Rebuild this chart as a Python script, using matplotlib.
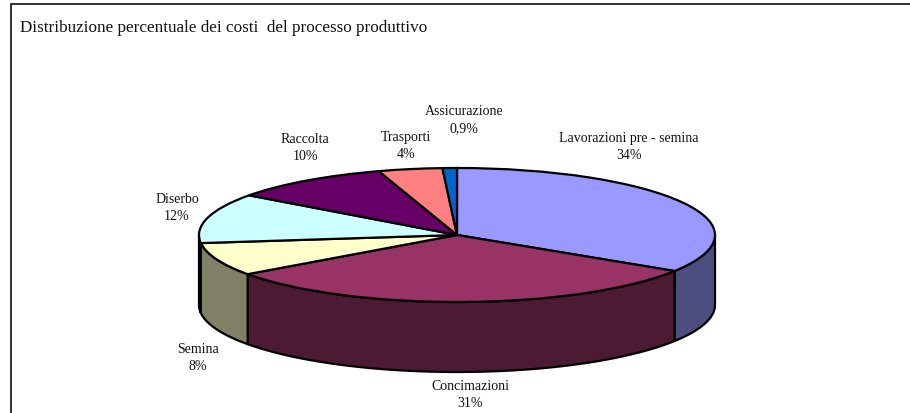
import numpy as np
import matplotlib
matplotlib.use("Agg")
import matplotlib.pyplot as plt
from matplotlib.patches import Rectangle

plt.rcParams['font.family'] = ['Liberation Serif', 'DejaVu Serif']

title = "Distribuzione percentuale dei costi  del processo produttivo"
categories = ["Lavorazioni pre - semina", "Concimazioni", "Semina", "Diserbo",
              "Raccolta", "Trasporti", "Assicurazione"]
values = [34, 31, 8, 12, 10, 4, 0.9]
value_labels = ["34%", "31%", "8%", "12%", "10%", "4%", "0,9%"]
top_colors = ["#9999FF", "#993366", "#FFFFCC", "#CCFFFF", "#660066", "#FF8080", "#0066CC"]
side_colors = ["#4D4D80", "#4D1A33", "#808066", "#668080", "#330033", "#804040", "#003366"]
label_centers_px = [(629, 147), (470, 395), (198, 358), (177, 208),
                    (305, 148), (406, 146), (464, 120)]

W, H = 910, 414
CX, CY, RX, RY, DEPTH = 457, 236, 258, 67, 70

fig = plt.figure(figsize=(W / 100, H / 100), dpi=100, facecolor="white")
ax = fig.add_axes([0, 0, 1, 1])
ax.pie(values, colors=top_colors, startangle=90, counterclock=False, radius=1,
       center=(0, 0), normalize=True, frame=False,
       wedgeprops=dict(edgecolor="black", linewidth=1.6, zorder=3))
ax.set_aspect("auto")
ax.set_xlim(-CX / RX, (W - CX) / RX)
ax.set_ylim(-(H - CY) / RY, CY / RY)
ax.axis("off")
d = DEPTH / RY

def px(x, y):
    return (x - CX) / RX, (CY - y) / RY

# cylinder wall: the part of each slice below the horizontal diameter
fr = np.cumsum([0] + values) / sum(values) * 360
for i in range(len(values)):
    a0, a1 = max(fr[i], 90), min(fr[i + 1], 270)
    if a1 <= a0:
        continue
    t = np.radians(np.linspace(a0, a1, 120))
    x, y = np.sin(t), np.cos(t)
    ax.fill(np.r_[x, x[::-1]], np.r_[y, y[::-1] - d], facecolor=side_colors[i],
            edgecolor="black", linewidth=1.6, joinstyle="round", zorder=2)

for c, v, (lx, ly) in zip(categories, value_labels, label_centers_px):
    x, y = px(lx, ly)
    ax.text(x, y, f"{c}\n{v}", ha="center", va="center", fontsize=10,
            linespacing=1.4, color="#111111", zorder=5)

x, y = px(20, 28)
ax.text(x, y, title, ha="left", va="center", fontsize=12.3, color="#111111")

x0, y0 = 10.5 / W, 1 - 4.5 / H
fig.add_artist(Rectangle((x0, -0.02), 1.1, y0 + 0.02, transform=fig.transFigure,
                         fill=False, edgecolor="#222222", linewidth=1.3))

fig.savefig("out.png", dpi=100)
